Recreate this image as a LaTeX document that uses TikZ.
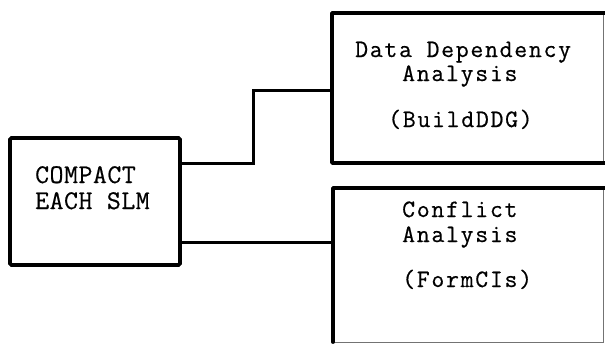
\documentclass[tikz,border=0pt]{standalone}
\usepackage{fontspec}
\newfontfamily\rfont{Latin Modern Mono}[LetterSpace=7,FakeBold=0.6]
\newfontfamily\lfont{Latin Modern Mono}[LetterSpace=2,FakeBold=0.6]
\begin{document}
\begin{tikzpicture}[x=1pt,y=-1pt,
  boxframe/.style={draw=black!55,line width=0.8pt,inner sep=0pt,outer sep=0pt},
  thickedge/.style={line width=3.8pt,line cap=round,line join=round},
  wire/.style={line width=3pt,line join=miter},
  lbl/.style={anchor=base west,inner sep=0pt,font=\rfont\fontsize{25}{26}\selectfont},
  llbl/.style={anchor=base west,inner sep=0pt,font=\lfont\fontsize{27}{28}\selectfont}]
\useasboundingbox (0,0) rectangle (605,343);
% boxes
\node[draw,line width=3.8pt,rounded corners=1.5pt,inner sep=0pt,outer sep=0pt,
  minimum width=170pt,minimum height=127pt] (cmp) at (95,201.5) {};
\node[boxframe,minimum width=271pt,minimum height=150pt] (ddg) at (467.5,88) {};
\node[boxframe,minimum width=270pt,minimum height=154pt] (ci) at (468,265) {};
\draw[thickedge] ([xshift=2pt]ddg.north east) -- (ddg.north west) -- (ddg.south west) -- ([xshift=2pt]ddg.south east);
\draw[thickedge] ([xshift=2pt]ci.north east) -- (ci.north west) -- (ci.south west);
% texts
\node[llbl] (t1) at (35,183) {COMPACT};
\node[llbl] (t2) at (35,209) {EACH SLM};
\node[lbl] (t3) at (355,57) {Data Dependency};
\node[lbl] (t4) at (402,81) {Analysis};
\node[lbl] (t5) at (388,127) {(BuildDDG)};
\node[lbl] (t6) at (402,217) {Conflict};
\node[lbl] (t7) at (402,242) {Analysis};
\node[lbl] (t8) at (402,287) {(FormCIs)};
% connectors
\coordinate (bend) at (253,163);
\draw[wire] (cmp.east |- bend) -- (bend) -- (253,90) -- (ddg.west |- 0,90);
\draw[wire] (cmp.east |- 0,242) -- (ci.west |- 0,242);
\end{tikzpicture}
\end{document}
